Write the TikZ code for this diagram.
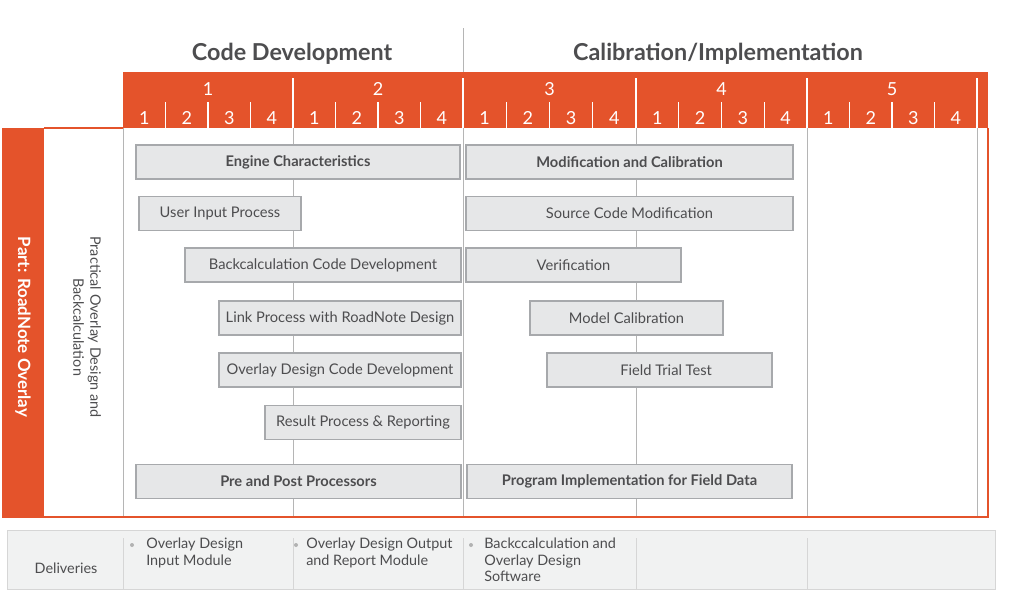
\documentclass[tikz,border=0pt]{standalone}
\usepackage{fontspec}
\setmainfont{Lato}
\usepackage{xcolor}
\usepackage{tikz}
\definecolor{rnorange}{HTML}{E4532B}
\definecolor{rngray}{HTML}{4D4D4F}
\definecolor{barfill}{HTML}{E6E7E8}
\definecolor{barline}{HTML}{A7A9AC}
\definecolor{gridline}{HTML}{B5B5B5}
\definecolor{delfill}{HTML}{F1F2F2}
\definecolor{delline}{HTML}{D6D6D6}
\tikzset{
  bar/.style={draw=barline,line width=0.9pt,fill=barfill,minimum height=25.5pt,inner sep=0pt,
    text=rngray,font=\fontsize{11}{13}\selectfont},
  keybar/.style={bar,font=\fontsize{11}{13}\selectfont\bfseries},
  title/.style={text=rngray,font=\fontsize{17.5}{20}\selectfont\bfseries,anchor=base},
  num/.style={text=white,font=\fontsize{13.5}{15}\selectfont,anchor=base},
  deltext/.style={text=rngray,font=\fontsize{10.8}{12.2}\selectfont,align=left,anchor=north west,inner sep=0pt},
  dot/.style={circle,fill=black!30,inner sep=0pt,minimum size=3pt},
}

\begin{document}
\begin{tikzpicture}[x=0.75pt,y=-0.75pt]
\useasboundingbox (0,0) rectangle (1024,607);

% deliveries row
\draw[delline,fill=delfill] (7,530) rectangle (995,589);
\foreach \x in {123,293,463,636,807}
  \draw[delline] (\x,538) -- (\x,589);

% grid
\foreach \x in {123,293,636,807,977}
  \draw[gridline] (\x,128) -- (\x,517);
\draw[gridline] (463,28) -- (463,517);

\node (tcode) at (292,60) [title] {Code Development};
\node (tcal) at (718,60) [title] {Calibration/Implementation};

% header band
\fill[rnorange] (123,72) rectangle (988,128);
\foreach \xs/\xe/\n in {123/293/1,293/463/2,463/636/3,636/807/4,807/977/5} {
  \pgfmathsetmacro\w{(\xe-\xs)/4}
  \draw[white,line width=0.8pt] (\xe,78) -- (\xe,128);
  \node (y\n) at ({(\xs+\xe)/2},95) [num] {\n};
  \foreach \q in {1,...,4}
    \node (q\n-\q) at ({\xs+\w*\q-\w/2},124) [num] {\q};
  \foreach \q in {1,2,3}
    \draw[white,line width=0.8pt] ({\xs+\w*\q},102) -- ({\xs+\w*\q},128);
}

% part strip and outline
\fill[rnorange] (2,128) rectangle (44,517);
\draw[rnorange,line width=1.2pt] (44,128) -- (123,128);
\draw[rnorange,line width=1.2pt] (988,128) -- (988,517) -- (2,517);
\node (part) at (23,327) [rotate=-90,text=white,font=\fontsize{12.7}{14}\selectfont\bfseries] {Part: RoadNote Overlay};
\node (task) at (87,327) [rotate=-90,align=center,text=rngray,font=\fontsize{10.8}{12.75}\selectfont] {Practical Overlay Design and\\Backcalculation};

% bars
\node (eng) at (298,162) [keybar,minimum width=243pt] {Engine Characteristics};
\node (usr) at (220,213.5) [bar,minimum width=121.5pt] {User Input Process};
\node (bcd) at (323,265) [bar,minimum width=207pt] {Backcalculation Code Development};
\node (lnk) at (340,318) [bar,minimum width=181.5pt] {Link Process with RoadNote Design};
\node (ocd) at (340,370) [bar,minimum width=181.5pt] {Overlay Design Code Development};
\node (res) at (363,422.5) [bar,minimum width=147pt] {Result Process \& Reporting};
\node (pre) at (298.5,481.5) [keybar,minimum width=243.75pt] {Pre and Post Processors};
\node (mod) at (629.5,162) [keybar,minimum width=245.25pt] {Modification and Calibration};
\node (src) at (629.5,213.5) [bar,minimum width=245.25pt] {Source Code Modification};
\node (ver) at (573.5,265) [bar,minimum width=161.25pt] {Verification};
\node (mcal) at (626.5,318) [bar,minimum width=144.75pt] {Model Calibration};
\node (fld) at (659.5,370) [bar,minimum width=168.75pt] {\hspace{10pt}Field Trial Test};
\node (prog) at (629.5,481.5) [keybar,minimum width=243.75pt] {Program Implementation for Field Data};

% deliveries
\node (del) at (66,573) [anchor=base,text=rngray,font=\fontsize{10.8}{12}\selectfont] {Deliveries};
\node (b1) at (132,545) [dot] {};
\node (d1) at (146,538) [deltext] {Overlay Design\\Input Module};
\node (b2) at (296,545) [dot] {};
\node (d2) at (306,538) [deltext] {Overlay Design Output\\and Report Module};
\node (b3) at (471,545) [dot] {};
\node (d3) at (484,538) [deltext] {Backccalculation and\\Overlay Design\\Software};
\end{tikzpicture}
\end{document}
